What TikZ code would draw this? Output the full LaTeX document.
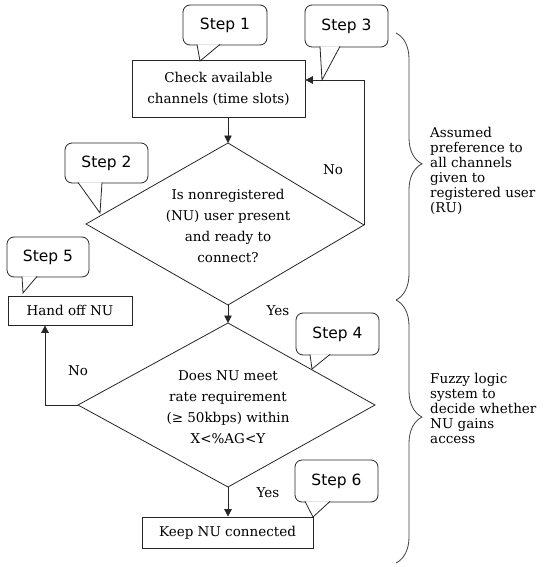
\documentclass[tikz,border=0pt]{standalone}
\usepackage{fontspec}
\setmainfont{DejaVu Serif}
\newfontfamily\stepfont{DejaVu Sans}
\usetikzlibrary{arrows.meta,decorations.pathreplacing,calc}
\tikzset{
  ln/.style={draw=black!85, line width=0.8pt},
  arr/.style={ln, -{Triangle[length=7.5pt,width=7.5pt]}},
  procbox/.style={ln, rectangle, inner sep=0pt, font=\fontsize{13.5}{21}\selectfont, align=center},
  bubble/.style={ln, fill=white, rounded corners=7pt, inner sep=0pt, font=\stepfont\fontsize{15.5}{17}\selectfont},
  tail/.style={ln, fill=white},
  txt/.style={inner sep=0pt, font=\fontsize{13.5}{21}\selectfont, align=center},
  sidetxt/.style={inner sep=0pt, font=\fontsize{13.5}{15}\selectfont, align=left, anchor=west},
  bracestyle/.style={draw=black!75, line width=0.8pt, decorate}
}
\begin{document}
\begin{tikzpicture}[x=1pt,y=-1pt]
\useasboundingbox (0,0) rectangle (543,567);

% process boxes
\node[procbox, minimum width=173pt, minimum height=57pt] (check) at (218.5,88.5) {Check available\\channels (time slots)};
\node[procbox, minimum width=124pt, minimum height=29pt] (hand) at (70,310.5) {Hand off NU};
\node[procbox, minimum width=171pt, minimum height=31pt] (keep) at (227.5,532.5) {Keep NU connected};

% diamond 1
\coordinate (d1n) at (228,143);
\coordinate (d1s) at (228,305);
\coordinate (d1w) at (86,224);
\coordinate (d1e) at (364,225);
\draw[ln] (d1n) -- (d1e) -- (d1s) -- (d1w) -- cycle;
\node[txt] (d1t) at (228,226) {Is nonregistered\\(NU) user present\\and ready to\\connect?};

% diamond 2
\coordinate (d2n) at (228,323);
\coordinate (d2s) at (228,487);
\coordinate (d2w) at (78,405);
\coordinate (d2e) at (375,405);
\draw[ln] (d2n) -- (d2e) -- (d2s) -- (d2w) -- cycle;
\node[txt] (d2t) at (228,407) {Does NU meet\\rate requirement\\(≥ 50kbps) within\\X<\%AG<Y};

% connectors
\draw[arr] (check.south -| d1n) -- (d1n);
\draw[arr] (d1e) |- ([yshift=8.5pt]check.east);
\draw[arr] (d1s) -- (d2n);
\draw[arr] (d2w) -| ([xshift=-25pt]hand.south);
\draw[arr] (d2s) -- (d2s |- keep.north);

% labels
\node[txt] (no1) at (333,170) {No};
\node[txt] (yes1) at (278,311) {Yes};
\node[txt] (no2) at (78,371) {No};
\node[txt] (yes2) at (268,493) {Yes};

% callouts
\node[bubble, minimum width=84pt, minimum height=40pt] (s1) at (225,25) {Step 1};
\draw[tail] (197,44.4) -- (200,61) -- (220,44.4);
\node[bubble, minimum width=83pt, minimum height=42pt] (s3) at (346.5,26) {Step 3};
\draw[tail] (320,46.4) -- (322,80) -- (340,46.4);
\node[bubble, minimum width=83pt, minimum height=40pt] (s2) at (106.5,163) {Step 2};
\draw[tail] (78,182.4) -- (100,213) -- (102,182.4);
\node[bubble, minimum width=82pt, minimum height=40pt] (s5) at (48,257) {Step 5};
\draw[tail] (22,276.4) -- (23,293) -- (37,276.4);
\node[bubble, minimum width=83pt, minimum height=42pt] (s4) at (337.5,334) {Step 4};
\draw[tail] (310,354.4) -- (312,369) -- (330,354.4);
\node[bubble, minimum width=83pt, minimum height=42pt] (s6) at (336.5,481) {Step 6};
\draw[tail] (305,501.4) -- (313,517) -- (330,501.4);

% braces
\draw[bracestyle, decoration={brace, amplitude=26pt, aspect=0.49}] (396,33) -- (396,300);
\draw[bracestyle, decoration={brace, amplitude=26pt, aspect=0.445}] (396,300) -- (396,563);

% side texts
\node[sidetxt] (side1) at (430,170.5) {Assumed\\preference to\\all channels\\given to\\registered user\\(RU)};
\node[sidetxt] (side2) at (430,408) {Fuzzy logic\\system to\\decide whether\\NU gains\\access};
\end{tikzpicture}
\end{document}
